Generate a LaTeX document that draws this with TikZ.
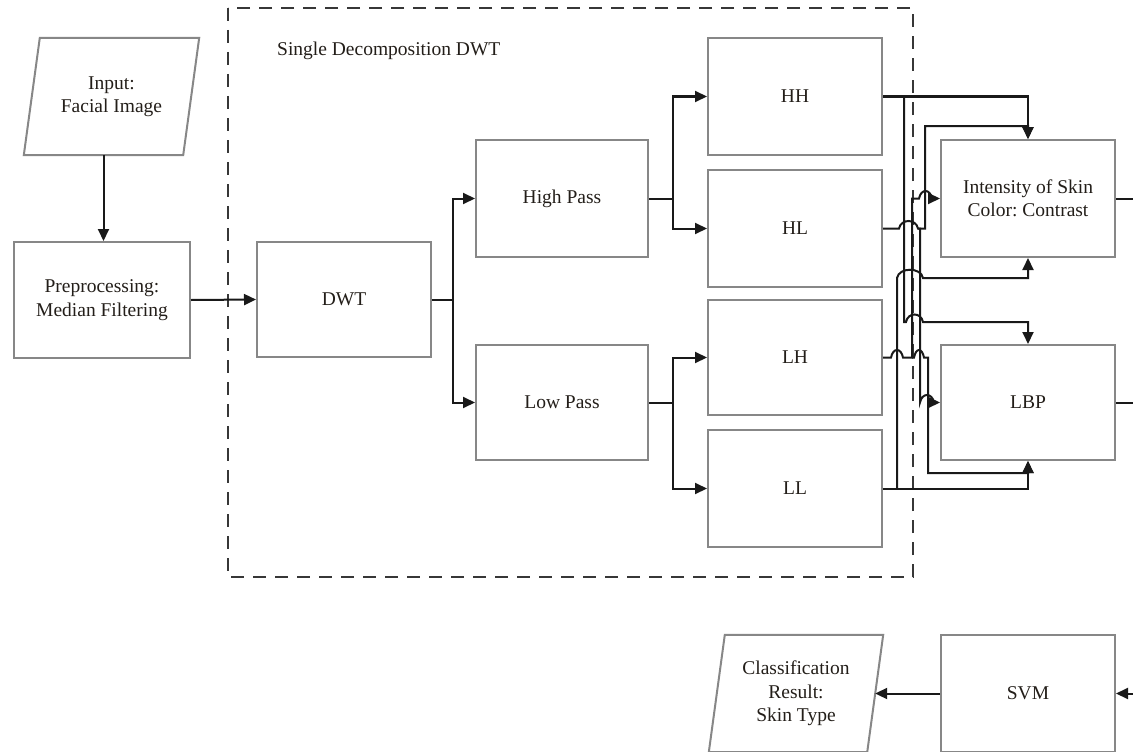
\documentclass[tikz,border=0pt]{standalone}
\usepackage{fontspec}
\setmainfont{Liberation Serif}
\usetikzlibrary{arrows.meta,calc}
\definecolor{boxgray}{RGB}{135,135,135}
\definecolor{linec}{RGB}{25,25,25}
\definecolor{txt}{RGB}{35,30,25}
\definecolor{dashc}{RGB}{55,55,55}
\frenchspacing
\begin{document}
\begin{tikzpicture}[x=1pt,y=-1pt,
  lbl/.style={align=center, font=\fontsize{19.5}{23.5}\selectfont\frenchspacing, text=txt, inner sep=0pt},
  box/.style={lbl, draw=boxgray, line width=2pt, minimum width=174pt, minimum height=117pt},
  pgtext/.style={lbl, minimum width=159pt, minimum height=117pt},
  pgram/.style={draw=boxgray, line width=2pt, line join=miter},
  conn/.style={draw=linec, line width=2pt},
  arr/.style={conn, -{Triangle[length=12pt,width=11pt]}},
  dashbox/.style={draw=dashc, line width=1.8pt, dash pattern=on 13pt off 9pt}
]
\useasboundingbox (0,0) rectangle (1133,752);

% dashed group
\draw[dashbox] (228,8) rectangle (913,577);
\node[lbl, anchor=west] (title) at (277,51) {Single Decomposition DWT};

% bus coordinates
\coordinate (bA) at (897,0);
\coordinate (bB) at (904,0);
\coordinate (rI) at (1133,198.5);
\coordinate (rL) at (1133,402.5);
\coordinate (rS) at (1133,693.5);

% input parallelogram
\node[pgtext] (input) at (111.5,96.5) {Input:\\Facial Image};
\draw[pgram] ([xshift=8pt]input.north west) -- ([xshift=8pt]input.north east) -- ([xshift=-8pt]input.south east) -- ([xshift=-8pt]input.south west) -- cycle;

% boxes
\node[box, minimum width=176pt, minimum height=116pt] (prep) at (102,300) {Preprocessing:\\Median Filtering};
\node[box, minimum height=115pt] (dwt) at (344,299.5) {DWT};
\node[box, minimum width=172pt] (hp) at (562,198.5) {High Pass};
\node[box, minimum width=172pt, minimum height=115pt] (lp) at (562,402.5) {Low Pass};
\node[box] (hh) at (795,96.5) {HH};
\node[box] (hl) at (795,228.5) {HL};
\node[box, minimum height=115pt] (lh) at (795,357.5) {LH};
\node[box] (ll) at (795,488.5) {LL};
\node[box] (int) at (1028,198.5) {Intensity of Skin\\Color: Contrast};
\node[box, minimum height=115pt] (lbp) at (1028,402.5) {LBP};
\node[box] (svm) at (1028,693.5) {SVM};

% output parallelogram
\node[pgtext, minimum width=158pt] (cls) at (796,693.5) {Classification\\Result:\\Skin Type};
\draw[pgram] ([xshift=8pt]cls.north west) -- ([xshift=8pt]cls.north east) -- ([xshift=-8pt]cls.south east) -- ([xshift=-8pt]cls.south west) -- cycle;

% left flow
\draw[arr] ([xshift=-8pt]input.south) -- ([xshift=-8pt]input.south |- prep.north);
\draw[arr] (prep.east) -- (dwt.west);
\draw[arr] (dwt.east) -- (453,299.5) |- (hp.west);
\draw[arr] (453,299.5) |- (lp.west);
\draw[arr] (hp.east) -- (673,198.5) |- (hh.west);
\draw[arr] (673,198.5) |- (hl.west);
\draw[arr] (lp.east) -- (673,402.5) |- (lh.west);
\draw[arr] (673,402.5) |- (ll.west);

% HH -> Intensity, HH -> LBP
\draw[arr] (hh.east) -| (int.north);
\draw[arr] (hh.east -| bB) -- (904,322) -- (906,322) .. controls (908,312) and (921,312) .. (923,322) -| (lbp.north);
% HL -> Intensity, HL -> LBP
\draw[arr] (hl.east) -- (899,228.5) .. controls (901,218.5) and (916,218.5) .. (918,228.5) -- (925,228.5) -- (925,126) -| (int.north);
\draw[arr] (918,228.5) -- (920,228.5) -- (920,402.5) .. controls (922,392.5) and (932,392.5) .. (934,402.5) -- (lbp.west);
% LH -> Intensity, LH -> LBP
\draw[arr] (lh.east) -- (891,357.5) .. controls (893,347.5) and (901,347.5) .. (903,357.5) -- (912,357.5) -- (912,198.5) -- (919,198.5) .. controls (921,188.5) and (930,188.5) .. (932,198.5) -- (int.west);
\draw[arr] (912,357.5) -- (914,357.5) .. controls (916,347.5) and (922,347.5) .. (924,357.5) -- (928,357.5) -- (928,473) -| (lbp.south);
% LL -> LBP, LL -> Intensity
\draw[arr] (ll.east) -| (lbp.south);
\draw[arr] (ll.east -| bA) -- (897,278) .. controls (899,267) and (921,267) .. (923,278) -| (int.south);

% right side and bottom
\draw[conn] (int.east) -- (rI);
\draw[conn] (lbp.east) -- (rL);
\draw[arr] (rS) -- (svm.east);
\draw[arr] (svm.west) -- (cls.east);
\end{tikzpicture}
\end{document}
